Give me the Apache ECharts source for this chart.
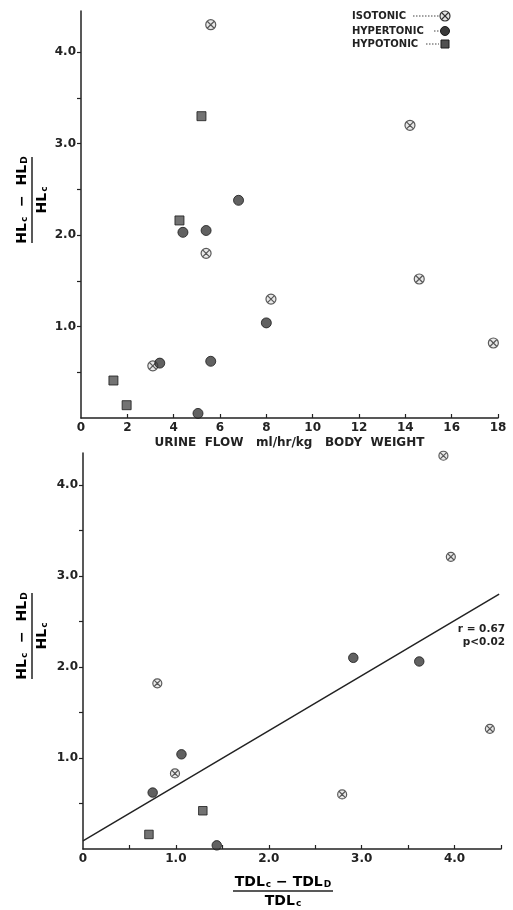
<!DOCTYPE html>
<html>
<head>
<meta charset="utf-8">
<script src="https://cdn.jsdelivr.net/npm/echarts@6/dist/echarts.min.js"></script>
<style>
  html, body { margin: 0; padding: 0; background: #fff; }
  #chart { width: 513px; height: 910px; }
</style>
</head>
<body>
<div id="chart"></div>
<script>
// top panel: urine flow vs (HLc - HLd)/HLc
var isoTopX = [5.6, 14.2, 5.4, 8.2, 14.6, 17.8, 3.1];
var isoTopY = [4.3, 3.2, 1.8, 1.3, 1.52, 0.82, 0.57];
var hyperTopX = [3.4, 4.4, 5.4, 6.8, 8.0, 5.6, 5.05];
var hyperTopY = [0.6, 2.03, 2.05, 2.38, 1.04, 0.62, 0.05];
var hypoTopX = [5.2, 4.25, 1.4, 1.97];
var hypoTopY = [3.3, 2.16, 0.41, 0.14];

// bottom panel: (TDLc - TDLd)/TDLc vs (HLc - HLd)/HLc
var isoBotX = [3.88, 3.96, 4.38, 2.79, 0.8, 0.99];
var isoBotY = [4.32, 3.21, 1.32, 0.6, 1.82, 0.83];
var hyperBotX = [2.91, 3.62, 1.06, 0.75, 1.44];
var hyperBotY = [2.1, 2.06, 1.04, 0.62, 0.04];
var hypoBotX = [1.29, 0.71];
var hypoBotY = [0.42, 0.16];
var fitX = [0, 4.48];
var fitY = [0.09, 2.8];

var yTicks = [0.5, 1, 1.5, 2, 2.5, 3, 3.5, 4];
var yLabels = [1, 2, 3, 4];
var xTopTicks = [2, 4, 6, 8, 10, 12, 14, 16, 18];
var xTopLabels = [0, 2, 4, 6, 8, 10, 12, 14, 16, 18];
var xBotTicks = [0.5, 1, 1.5, 2, 2.5, 3, 3.5, 4, 4.5];
var xBotLabels = [0, 1, 2, 3, 4];

var seriesNames = ['ISOTONIC', 'HYPERTONIC', 'HYPOTONIC'];

function pairs(xs, ys) {
    return xs.map(function (x, i) { return [x, ys[i]]; });
}

var ink = '#222';
var font = 'DejaVu Sans';
var isoSymbol = 'path://M0,10A10,10 0 1,1 20,10A10,10 0 1,1 0,10Z M3.5,3.5L16.5,16.5M16.5,3.5L3.5,16.5';
var isoStyle = { color: '#e4e4e4', borderColor: '#333', borderWidth: 1.2 };
var hyperStyle = { color: '#3a3a3a', borderColor: '#1a1a1a', borderWidth: 1 };
var hypoStyle = { color: '#505050', borderColor: '#1a1a1a', borderWidth: 1 };

function yAxisFor(gridIndex, max) {
    return {
        type: 'value', gridIndex: gridIndex, min: 0, max: max, interval: 0.5,
        axisLine: { show: true, lineStyle: { color: ink, width: 1.5 } },
        axisTick: { show: true, length: 4, customValues: yTicks, lineStyle: { color: ink, width: 1.2 } },
        axisLabel: {
            customValues: yLabels, margin: 5, color: ink, fontFamily: font, fontWeight: 'bold', fontSize: 12,
            formatter: function (v) { return v.toFixed(1); }
        },
        splitLine: { show: false }
    };
}

function scatter(name, xi, data, symbol, size, style) {
    return {
        name: name, type: 'scatter', xAxisIndex: xi, yAxisIndex: xi,
        data: data, symbol: symbol, symbolSize: size, itemStyle: style, clip: false
    };
}

var fracRich = {
    m: { fontSize: 14, fontWeight: 'bold', fontFamily: font, color: ink },
    s: { fontSize: 9, fontWeight: 'bold', fontFamily: font, color: ink, verticalAlign: 'bottom', padding: [6, 0, 0, 1] }
};

// rotated fraction label "HLc - HLd / HLc"
function yFraction(cx, cy) {
    return {
        type: 'group', x: cx, y: cy, rotation: Math.PI / 2,
        children: [
            { type: 'text', x: 0, y: -10, style: { text: '{m|HL}{s|c}{m|  −  HL}{s|D}', rich: fracRich, align: 'center', verticalAlign: 'middle' } },
            { type: 'line', shape: { x1: -43, y1: 0, x2: 43, y2: 0 }, style: { stroke: ink, lineWidth: 1.5 } },
            { type: 'text', x: 0, y: 10, style: { text: '{m|HL}{s|c}', rich: fracRich, align: 'center', verticalAlign: 'middle' } }
        ]
    };
}

function xFraction(cx, cy) {
    return {
        type: 'group', x: cx, y: cy,
        children: [
            { type: 'text', x: 0, y: -9, style: { text: '{m|TDL}{s|c}{m| − TDL}{s|D}', rich: fracRich, align: 'center', verticalAlign: 'middle' } },
            { type: 'line', shape: { x1: -50, y1: 0, x2: 50, y2: 0 }, style: { stroke: ink, lineWidth: 1.5 } },
            { type: 'text', x: 0, y: 10, style: { text: '{m|TDL}{s|c}', rich: fracRich, align: 'center', verticalAlign: 'middle' } }
        ]
    };
}

// legend rows: label, dotted leader, symbol
function legendRow(label, y, leaderFrom, kind) {
    var sx = 445;
    var children = [
        { type: 'text', x: 352, y: y, style: { text: label, fill: ink, font: 'bold 10px ' + font, verticalAlign: 'middle' } },
        { type: 'line', shape: { x1: leaderFrom, y1: y, x2: sx - 6, y2: y }, style: { stroke: '#444', lineWidth: 1, lineDash: [1.5, 1.5] } }
    ];
    if (kind === 0) {
        children.push({ type: 'circle', shape: { cx: sx, cy: y, r: 5 }, style: { fill: isoStyle.color, stroke: '#333', lineWidth: 1.2 } });
        children.push({ type: 'line', shape: { x1: sx - 3, y1: y - 3, x2: sx + 3, y2: y + 3 }, style: { stroke: '#333', lineWidth: 1.1 } });
        children.push({ type: 'line', shape: { x1: sx + 3, y1: y - 3, x2: sx - 3, y2: y + 3 }, style: { stroke: '#333', lineWidth: 1.1 } });
    } else if (kind === 1) {
        children.push({ type: 'circle', shape: { cx: sx, cy: y, r: 4.5 }, style: { fill: hyperStyle.color, stroke: '#1a1a1a', lineWidth: 1 } });
    } else {
        children.push({ type: 'rect', shape: { x: sx - 4, y: y - 4, width: 8, height: 8 }, style: { fill: hypoStyle.color, stroke: '#1a1a1a', lineWidth: 1 } });
    }
    return { type: 'group', children: children };
}

var myChart = echarts.init(document.getElementById('chart'));
var option = {
    backgroundColor: '#fff',
    animation: false,
    grid: [
        { left: 81, top: 11, width: 417, height: 407 },
        { left: 83, top: 453, width: 418, height: 396 }
    ],
    xAxis: [
        {
            type: 'value', gridIndex: 0, min: 0, max: 18, interval: 2,
            name: 'URINE  FLOW   ml/hr/kg   BODY  WEIGHT', nameLocation: 'middle', nameGap: 19,
            nameTextStyle: { color: ink, fontFamily: font, fontWeight: 'bold', fontSize: 12 },
            axisLine: { lineStyle: { color: ink, width: 1.5 } },
            axisTick: { inside: true, length: 4, customValues: xTopTicks, lineStyle: { color: ink, width: 1.2 } },
            axisLabel: { customValues: xTopLabels, margin: 4, color: ink, fontFamily: font, fontWeight: 'bold', fontSize: 12 },
            splitLine: { show: false }
        },
        {
            type: 'value', gridIndex: 1, min: 0, max: 4.5, interval: 0.5,
            axisLine: { lineStyle: { color: ink, width: 1.5 } },
            axisTick: { inside: true, length: 4, customValues: xBotTicks, lineStyle: { color: ink, width: 1.2 } },
            axisLabel: {
                customValues: xBotLabels, margin: 4, color: ink, fontFamily: font, fontWeight: 'bold', fontSize: 12,
                formatter: function (v) { return v === 0 ? '0' : v.toFixed(1); }
            },
            splitLine: { show: false }
        }
    ],
    yAxis: [yAxisFor(0, 4.45), yAxisFor(1, 4.35)],
    series: [
        scatter(seriesNames[0], 0, pairs(isoTopX, isoTopY), isoSymbol, 10, isoStyle),
        scatter(seriesNames[1], 0, pairs(hyperTopX, hyperTopY), 'circle', 10, hyperStyle),
        scatter(seriesNames[2], 0, pairs(hypoTopX, hypoTopY), 'rect', 9, hypoStyle),
        scatter(seriesNames[0], 1, pairs(isoBotX, isoBotY), isoSymbol, 9, isoStyle),
        scatter(seriesNames[1], 1, pairs(hyperBotX, hyperBotY), 'circle', 9.5, hyperStyle),
        scatter(seriesNames[2], 1, pairs(hypoBotX, hypoBotY), 'rect', 8.5, hypoStyle),
        {
            name: 'fit', type: 'line', xAxisIndex: 1, yAxisIndex: 1,
            data: pairs(fitX, fitY), showSymbol: false, silent: true,
            lineStyle: { color: ink, width: 1.5 }, z: 1
        }
    ],
    graphic: [
        legendRow(seriesNames[0], 16, 413, 0),
        legendRow(seriesNames[1], 31, 434, 1),
        legendRow(seriesNames[2], 44, 426, 2),
        yFraction(32, 200),
        yFraction(32, 636),
        xFraction(283, 891),
        {
            type: 'text', x: 505, y: 636,
            style: { text: 'r = 0.67\np<0.02', fill: ink, font: 'bold 10.5px ' + font, align: 'right', verticalAlign: 'middle', lineHeight: 13 }
        }
    ]
};
myChart.setOption(option);
window.addEventListener('resize', function () {
    myChart.resize();
});
</script>
</body>
</html>
